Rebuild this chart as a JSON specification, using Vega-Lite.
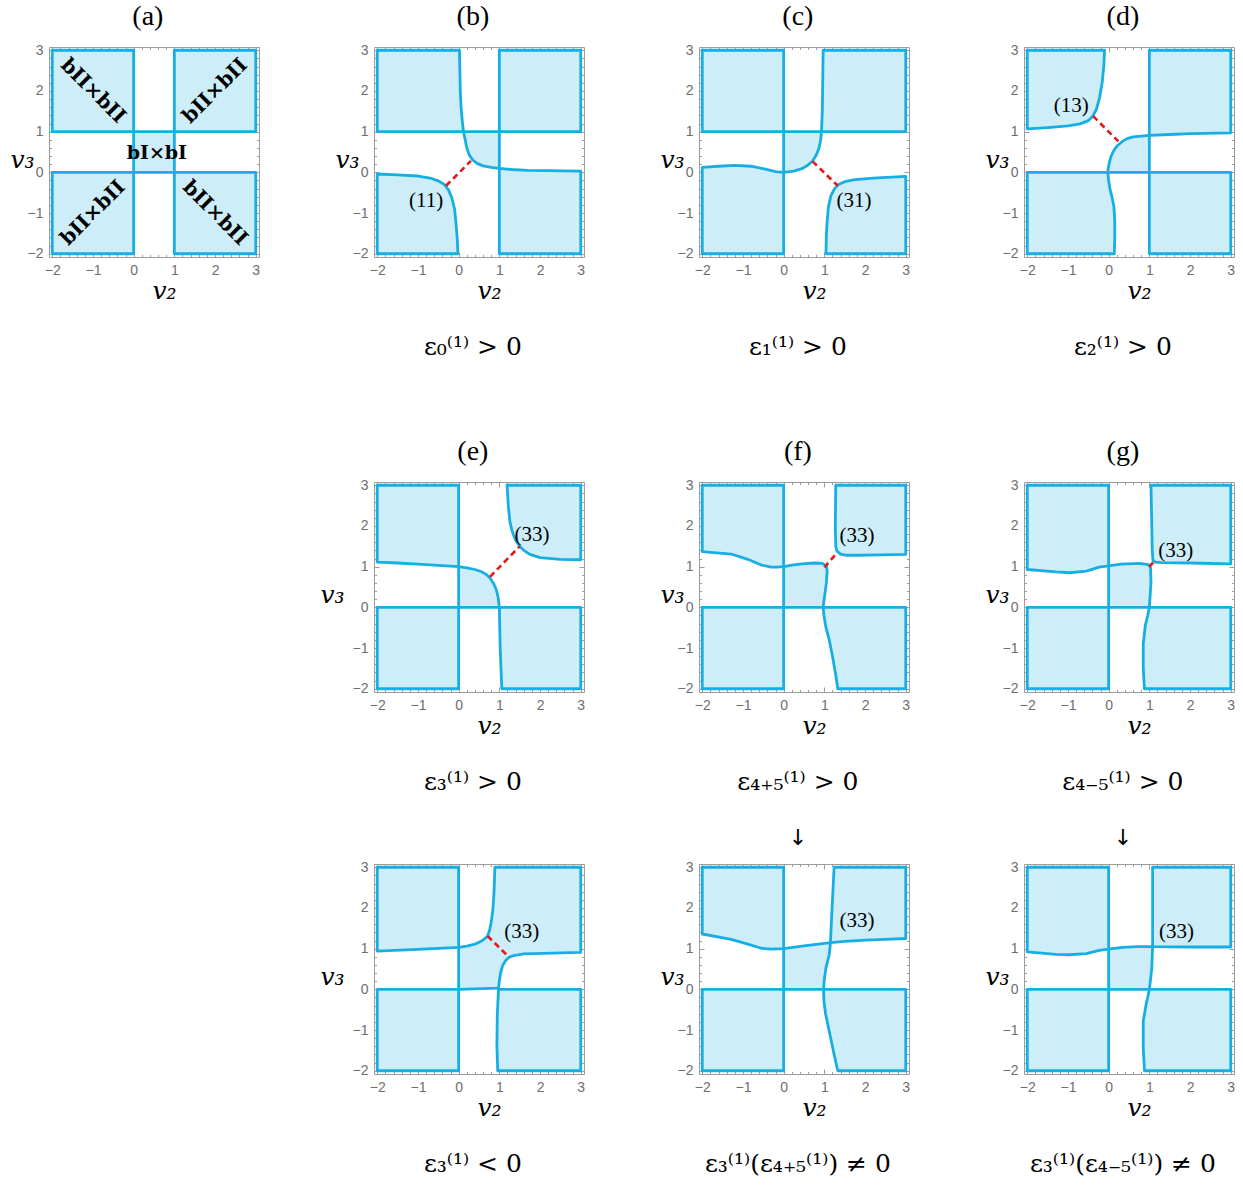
{
"$schema": "https://vega.github.io/schema/vega-lite/v6.json",
"background": "white",
"padding": {"left": 9, "top": 2, "right": 5, "bottom": 5},
"datasets": {
"poly": [
{"p":"a","g":"a1","x":-2,"y":1},{"p":"a","g":"a1","x":-2,"y":3},{"p":"a","g":"a1","x":0,"y":3},{"p":"a","g":"a1","x":0,"y":1},
{"p":"a","g":"a2","x":1,"y":1},{"p":"a","g":"a2","x":1,"y":3},{"p":"a","g":"a2","x":3,"y":3},{"p":"a","g":"a2","x":3,"y":1},
{"p":"a","g":"a3","x":-2,"y":-2},{"p":"a","g":"a3","x":-2,"y":0},{"p":"a","g":"a3","x":0,"y":0},{"p":"a","g":"a3","x":0,"y":-2},
{"p":"a","g":"a4","x":1,"y":-2},{"p":"a","g":"a4","x":1,"y":0},{"p":"a","g":"a4","x":3,"y":0},{"p":"a","g":"a4","x":3,"y":-2},
{"p":"a","g":"a5","x":0,"y":0},{"p":"a","g":"a5","x":0,"y":1},{"p":"a","g":"a5","x":1,"y":1},{"p":"a","g":"a5","x":1,"y":0},

{"p":"b","g":"b1","x":-2,"y":1},{"p":"b","g":"b1","x":-2,"y":3},{"p":"b","g":"b1","x":0.02,"y":3},{"p":"b","g":"b1","x":0.03,"y":2.5},{"p":"b","g":"b1","x":0.04,"y":2},{"p":"b","g":"b1","x":0.06,"y":1.6},{"p":"b","g":"b1","x":0.09,"y":1.25},{"p":"b","g":"b1","x":0.12,"y":1},
{"p":"b","g":"b2","x":1,"y":1},{"p":"b","g":"b2","x":1,"y":3},{"p":"b","g":"b2","x":3,"y":3},{"p":"b","g":"b2","x":3,"y":1},
{"p":"b","g":"b3","x":0.12,"y":1},{"p":"b","g":"b3","x":1,"y":1},{"p":"b","g":"b3","x":1,"y":0.1},{"p":"b","g":"b3","x":0.8,"y":0.12},{"p":"b","g":"b3","x":0.6,"y":0.16},{"p":"b","g":"b3","x":0.45,"y":0.22},{"p":"b","g":"b3","x":0.34,"y":0.31},{"p":"b","g":"b3","x":0.26,"y":0.43},{"p":"b","g":"b3","x":0.2,"y":0.6},{"p":"b","g":"b3","x":0.16,"y":0.8},
{"p":"b","g":"b4","x":1,"y":-2},{"p":"b","g":"b4","x":1,"y":0.1},{"p":"b","g":"b4","x":1.3,"y":0.07},{"p":"b","g":"b4","x":1.7,"y":0.05},{"p":"b","g":"b4","x":2.2,"y":0.04},{"p":"b","g":"b4","x":3,"y":0.03},{"p":"b","g":"b4","x":3,"y":-2},
{"p":"b","g":"b5","x":-2,"y":-2},{"p":"b","g":"b5","x":-2,"y":-0.04},{"p":"b","g":"b5","x":-1.5,"y":-0.06},{"p":"b","g":"b5","x":-1,"y":-0.09},{"p":"b","g":"b5","x":-0.7,"y":-0.14},{"p":"b","g":"b5","x":-0.5,"y":-0.21},{"p":"b","g":"b5","x":-0.35,"y":-0.3},{"p":"b","g":"b5","x":-0.25,"y":-0.43},{"p":"b","g":"b5","x":-0.17,"y":-0.62},{"p":"b","g":"b5","x":-0.1,"y":-0.9},{"p":"b","g":"b5","x":-0.06,"y":-1.3},{"p":"b","g":"b5","x":-0.03,"y":-1.7},{"p":"b","g":"b5","x":-0.02,"y":-2},

{"p":"c","g":"c1","x":-2,"y":1},{"p":"c","g":"c1","x":-2,"y":3},{"p":"c","g":"c1","x":0,"y":3},{"p":"c","g":"c1","x":0,"y":1},
{"p":"c","g":"c2","x":0.93,"y":1},{"p":"c","g":"c2","x":0.95,"y":1.5},{"p":"c","g":"c2","x":0.96,"y":2.2},{"p":"c","g":"c2","x":0.97,"y":3},{"p":"c","g":"c2","x":3,"y":3},{"p":"c","g":"c2","x":3,"y":1},
{"p":"c","g":"c3","x":0,"y":0},{"p":"c","g":"c3","x":0,"y":1},{"p":"c","g":"c3","x":0.93,"y":1},{"p":"c","g":"c3","x":0.91,"y":0.8},{"p":"c","g":"c3","x":0.87,"y":0.6},{"p":"c","g":"c3","x":0.8,"y":0.42},{"p":"c","g":"c3","x":0.71,"y":0.28},{"p":"c","g":"c3","x":0.6,"y":0.18},{"p":"c","g":"c3","x":0.45,"y":0.09},{"p":"c","g":"c3","x":0.25,"y":0.03},
{"p":"c","g":"c4","x":-2,"y":-2},{"p":"c","g":"c4","x":-2,"y":0.12},{"p":"c","g":"c4","x":-1.6,"y":0.15},{"p":"c","g":"c4","x":-1.2,"y":0.17},{"p":"c","g":"c4","x":-0.8,"y":0.15},{"p":"c","g":"c4","x":-0.45,"y":0.08},{"p":"c","g":"c4","x":-0.2,"y":0.02},{"p":"c","g":"c4","x":0,"y":0},{"p":"c","g":"c4","x":0,"y":-2},
{"p":"c","g":"c5","x":1.04,"y":-2},{"p":"c","g":"c5","x":1.05,"y":-1.5},{"p":"c","g":"c5","x":1.07,"y":-1.2},{"p":"c","g":"c5","x":1.1,"y":-0.85},{"p":"c","g":"c5","x":1.16,"y":-0.58},{"p":"c","g":"c5","x":1.25,"y":-0.4},{"p":"c","g":"c5","x":1.35,"y":-0.3},{"p":"c","g":"c5","x":1.5,"y":-0.23},{"p":"c","g":"c5","x":1.75,"y":-0.18},{"p":"c","g":"c5","x":2.2,"y":-0.14},{"p":"c","g":"c5","x":3,"y":-0.1},{"p":"c","g":"c5","x":3,"y":-2},

{"p":"d","g":"d1","x":-2,"y":1.07},{"p":"d","g":"d1","x":-2,"y":3},{"p":"d","g":"d1","x":-0.1,"y":3},{"p":"d","g":"d1","x":-0.12,"y":2.6},{"p":"d","g":"d1","x":-0.16,"y":2.2},{"p":"d","g":"d1","x":-0.22,"y":1.85},{"p":"d","g":"d1","x":-0.3,"y":1.55},{"p":"d","g":"d1","x":-0.39,"y":1.38},{"p":"d","g":"d1","x":-0.5,"y":1.27},{"p":"d","g":"d1","x":-0.7,"y":1.19},{"p":"d","g":"d1","x":-1,"y":1.14},{"p":"d","g":"d1","x":-1.5,"y":1.1},
{"p":"d","g":"d2","x":1,"y":0.91},{"p":"d","g":"d2","x":1,"y":3},{"p":"d","g":"d2","x":3,"y":3},{"p":"d","g":"d2","x":3,"y":0.97},{"p":"d","g":"d2","x":2,"y":0.95},{"p":"d","g":"d2","x":1.5,"y":0.93},
{"p":"d","g":"d3","x":-0.02,"y":0},{"p":"d","g":"d3","x":1,"y":0},{"p":"d","g":"d3","x":1,"y":0.91},{"p":"d","g":"d3","x":0.6,"y":0.87},{"p":"d","g":"d3","x":0.45,"y":0.83},{"p":"d","g":"d3","x":0.34,"y":0.76},{"p":"d","g":"d3","x":0.22,"y":0.66},{"p":"d","g":"d3","x":0.14,"y":0.56},{"p":"d","g":"d3","x":0.06,"y":0.4},{"p":"d","g":"d3","x":0.02,"y":0.25},{"p":"d","g":"d3","x":-0.01,"y":0.1},
{"p":"d","g":"d4","x":-2,"y":-2},{"p":"d","g":"d4","x":-2,"y":0},{"p":"d","g":"d4","x":-0.02,"y":0},{"p":"d","g":"d4","x":0,"y":-0.2},{"p":"d","g":"d4","x":0.03,"y":-0.4},{"p":"d","g":"d4","x":0.08,"y":-0.6},{"p":"d","g":"d4","x":0.13,"y":-0.85},{"p":"d","g":"d4","x":0.15,"y":-1.2},{"p":"d","g":"d4","x":0.15,"y":-1.6},{"p":"d","g":"d4","x":0.14,"y":-2},
{"p":"d","g":"d5","x":1,"y":-2},{"p":"d","g":"d5","x":1,"y":0},{"p":"d","g":"d5","x":3,"y":0},{"p":"d","g":"d5","x":3,"y":-2},

{"p":"e","g":"e1","x":-2,"y":1.11},{"p":"e","g":"e1","x":-2,"y":3},{"p":"e","g":"e1","x":0,"y":3},{"p":"e","g":"e1","x":0,"y":1},{"p":"e","g":"e1","x":-0.5,"y":1.03},{"p":"e","g":"e1","x":-1,"y":1.06},{"p":"e","g":"e1","x":-1.5,"y":1.09},
{"p":"e","g":"e2","x":0,"y":0},{"p":"e","g":"e2","x":0,"y":1},{"p":"e","g":"e2","x":0.2,"y":0.97},{"p":"e","g":"e2","x":0.4,"y":0.93},{"p":"e","g":"e2","x":0.55,"y":0.88},{"p":"e","g":"e2","x":0.68,"y":0.81},{"p":"e","g":"e2","x":0.77,"y":0.72},{"p":"e","g":"e2","x":0.85,"y":0.6},{"p":"e","g":"e2","x":0.92,"y":0.45},{"p":"e","g":"e2","x":0.97,"y":0.25},{"p":"e","g":"e2","x":1,"y":0},
{"p":"e","g":"e3","x":1,"y":0},{"p":"e","g":"e3","x":3,"y":0},{"p":"e","g":"e3","x":3,"y":-2},{"p":"e","g":"e3","x":1.06,"y":-2},{"p":"e","g":"e3","x":1.04,"y":-1.5},{"p":"e","g":"e3","x":1.02,"y":-1},{"p":"e","g":"e3","x":1.01,"y":-0.5},
{"p":"e","g":"e4","x":-2,"y":-2},{"p":"e","g":"e4","x":-2,"y":0},{"p":"e","g":"e4","x":0,"y":0},{"p":"e","g":"e4","x":0,"y":-2},
{"p":"e","g":"e5","x":1.19,"y":3},{"p":"e","g":"e5","x":3,"y":3},{"p":"e","g":"e5","x":3,"y":1.17},{"p":"e","g":"e5","x":2.5,"y":1.18},{"p":"e","g":"e5","x":2,"y":1.22},{"p":"e","g":"e5","x":1.75,"y":1.3},{"p":"e","g":"e5","x":1.6,"y":1.4},{"p":"e","g":"e5","x":1.5,"y":1.5},{"p":"e","g":"e5","x":1.4,"y":1.65},{"p":"e","g":"e5","x":1.32,"y":1.85},{"p":"e","g":"e5","x":1.26,"y":2.1},{"p":"e","g":"e5","x":1.22,"y":2.5},

{"p":"f","g":"f1","x":-2,"y":1.37},{"p":"f","g":"f1","x":-2,"y":3},{"p":"f","g":"f1","x":0,"y":3},{"p":"f","g":"f1","x":0,"y":1},{"p":"f","g":"f1","x":-0.15,"y":0.99},{"p":"f","g":"f1","x":-0.31,"y":0.99},{"p":"f","g":"f1","x":-0.55,"y":1.04},{"p":"f","g":"f1","x":-0.88,"y":1.18},{"p":"f","g":"f1","x":-1.29,"y":1.31},
{"p":"f","g":"f2","x":0,"y":0},{"p":"f","g":"f2","x":0,"y":1},{"p":"f","g":"f2","x":0.2,"y":1.04},{"p":"f","g":"f2","x":0.45,"y":1.07},{"p":"f","g":"f2","x":0.75,"y":1.09},{"p":"f","g":"f2","x":0.95,"y":1.08},{"p":"f","g":"f2","x":1.05,"y":1.02},{"p":"f","g":"f2","x":1.07,"y":0.9},{"p":"f","g":"f2","x":1.05,"y":0.6},{"p":"f","g":"f2","x":1.01,"y":0.3},{"p":"f","g":"f2","x":0.98,"y":0.1},{"p":"f","g":"f2","x":0.97,"y":0},
{"p":"f","g":"f3","x":0.97,"y":0},{"p":"f","g":"f3","x":3,"y":0},{"p":"f","g":"f3","x":3,"y":-2},{"p":"f","g":"f3","x":1.33,"y":-2},{"p":"f","g":"f3","x":1.28,"y":-1.66},{"p":"f","g":"f3","x":1.2,"y":-1.2},{"p":"f","g":"f3","x":1.12,"y":-0.8},{"p":"f","g":"f3","x":1.04,"y":-0.5},{"p":"f","g":"f3","x":0.99,"y":-0.2},
{"p":"f","g":"f4","x":-2,"y":-2},{"p":"f","g":"f4","x":-2,"y":0},{"p":"f","g":"f4","x":0,"y":0},{"p":"f","g":"f4","x":0,"y":-2},
{"p":"f","g":"f5","x":1.28,"y":3},{"p":"f","g":"f5","x":3,"y":3},{"p":"f","g":"f5","x":3,"y":1.3},{"p":"f","g":"f5","x":2.4,"y":1.29},{"p":"f","g":"f5","x":1.8,"y":1.28},{"p":"f","g":"f5","x":1.55,"y":1.28},{"p":"f","g":"f5","x":1.4,"y":1.31},{"p":"f","g":"f5","x":1.31,"y":1.38},{"p":"f","g":"f5","x":1.28,"y":1.5},{"p":"f","g":"f5","x":1.27,"y":2},

{"p":"g","g":"g1","x":-2,"y":0.93},{"p":"g","g":"g1","x":-2,"y":3},{"p":"g","g":"g1","x":0,"y":3},{"p":"g","g":"g1","x":0,"y":1.02},{"p":"g","g":"g1","x":-0.23,"y":0.99},{"p":"g","g":"g1","x":-0.55,"y":0.89},{"p":"g","g":"g1","x":-0.96,"y":0.85},{"p":"g","g":"g1","x":-1.29,"y":0.87},
{"p":"g","g":"g2","x":0,"y":0},{"p":"g","g":"g2","x":0,"y":1.02},{"p":"g","g":"g2","x":0.3,"y":1.06},{"p":"g","g":"g2","x":0.75,"y":1.08},{"p":"g","g":"g2","x":0.98,"y":1.05},{"p":"g","g":"g2","x":1.03,"y":0.97},{"p":"g","g":"g2","x":1.04,"y":0.6},{"p":"g","g":"g2","x":1.02,"y":0.3},{"p":"g","g":"g2","x":1,"y":0},
{"p":"g","g":"g3","x":1,"y":0},{"p":"g","g":"g3","x":3,"y":0},{"p":"g","g":"g3","x":3,"y":-2},{"p":"g","g":"g3","x":0.88,"y":-2},{"p":"g","g":"g3","x":0.85,"y":-1.5},{"p":"g","g":"g3","x":0.85,"y":-0.9},{"p":"g","g":"g3","x":0.9,"y":-0.45},{"p":"g","g":"g3","x":0.96,"y":-0.2},
{"p":"g","g":"g4","x":-2,"y":-2},{"p":"g","g":"g4","x":-2,"y":0},{"p":"g","g":"g4","x":0,"y":0},{"p":"g","g":"g4","x":0,"y":-2},
{"p":"g","g":"g5","x":1.04,"y":3},{"p":"g","g":"g5","x":3,"y":3},{"p":"g","g":"g5","x":3,"y":1.07},{"p":"g","g":"g5","x":2,"y":1.09},{"p":"g","g":"g5","x":1.3,"y":1.1},{"p":"g","g":"g5","x":1.15,"y":1.11},{"p":"g","g":"g5","x":1.09,"y":1.15},{"p":"g","g":"g5","x":1.07,"y":1.4},{"p":"g","g":"g5","x":1.06,"y":2},

{"p":"h","g":"h1","x":-2,"y":0.94},{"p":"h","g":"h1","x":-2,"y":3},{"p":"h","g":"h1","x":0,"y":3},{"p":"h","g":"h1","x":0,"y":1.03},{"p":"h","g":"h1","x":-1,"y":0.98},
{"p":"h","g":"h2","x":0,"y":0},{"p":"h","g":"h2","x":0,"y":1.03},{"p":"h","g":"h2","x":0.2,"y":1.06},{"p":"h","g":"h2","x":0.4,"y":1.11},{"p":"h","g":"h2","x":0.55,"y":1.18},{"p":"h","g":"h2","x":0.65,"y":1.25},{"p":"h","g":"h2","x":0.71,"y":1.31},{"p":"h","g":"h2","x":0.76,"y":1.45},{"p":"h","g":"h2","x":0.8,"y":1.65},{"p":"h","g":"h2","x":0.84,"y":1.95},{"p":"h","g":"h2","x":0.87,"y":2.4},{"p":"h","g":"h2","x":0.89,"y":3},{"p":"h","g":"h2","x":3,"y":3},{"p":"h","g":"h2","x":3,"y":0.91},{"p":"h","g":"h2","x":2.3,"y":0.89},{"p":"h","g":"h2","x":1.6,"y":0.87},{"p":"h","g":"h2","x":1.35,"y":0.83},{"p":"h","g":"h2","x":1.24,"y":0.79},{"p":"h","g":"h2","x":1.15,"y":0.7},{"p":"h","g":"h2","x":1.08,"y":0.58},{"p":"h","g":"h2","x":1.03,"y":0.4},{"p":"h","g":"h2","x":1,"y":0.21},{"p":"h","g":"h2","x":0.98,"y":0.03},
{"p":"h","g":"h3","x":0.98,"y":0},{"p":"h","g":"h3","x":3,"y":0},{"p":"h","g":"h3","x":3,"y":-2},{"p":"h","g":"h3","x":0.96,"y":-2},{"p":"h","g":"h3","x":0.94,"y":-1.4},{"p":"h","g":"h3","x":0.95,"y":-0.6},{"p":"h","g":"h3","x":0.97,"y":-0.2},
{"p":"h","g":"h4","x":-2,"y":-2},{"p":"h","g":"h4","x":-2,"y":0},{"p":"h","g":"h4","x":0,"y":0},{"p":"h","g":"h4","x":0,"y":-2},

{"p":"i","g":"i1","x":-2,"y":1.36},{"p":"i","g":"i1","x":-2,"y":3},{"p":"i","g":"i1","x":0,"y":3},{"p":"i","g":"i1","x":0,"y":1},{"p":"i","g":"i1","x":-0.31,"y":0.99},{"p":"i","g":"i1","x":-0.55,"y":1.01},{"p":"i","g":"i1","x":-0.88,"y":1.11},{"p":"i","g":"i1","x":-1.29,"y":1.23},
{"p":"i","g":"i2","x":0,"y":0},{"p":"i","g":"i2","x":0,"y":1},{"p":"i","g":"i2","x":0.5,"y":1.07},{"p":"i","g":"i2","x":1.15,"y":1.15},{"p":"i","g":"i2","x":1.12,"y":0.85},{"p":"i","g":"i2","x":1.04,"y":0.53},{"p":"i","g":"i2","x":1,"y":0.25},{"p":"i","g":"i2","x":0.98,"y":0},
{"p":"i","g":"i3","x":1.15,"y":1.15},{"p":"i","g":"i3","x":1.18,"y":1.8},{"p":"i","g":"i3","x":1.21,"y":2.4},{"p":"i","g":"i3","x":1.24,"y":3},{"p":"i","g":"i3","x":3,"y":3},{"p":"i","g":"i3","x":3,"y":1.25},{"p":"i","g":"i3","x":2.5,"y":1.23},{"p":"i","g":"i3","x":2,"y":1.21},{"p":"i","g":"i3","x":1.5,"y":1.18},
{"p":"i","g":"i4","x":0.98,"y":0},{"p":"i","g":"i4","x":3,"y":0},{"p":"i","g":"i4","x":3,"y":-2},{"p":"i","g":"i4","x":1.33,"y":-2},{"p":"i","g":"i4","x":1.24,"y":-1.6},{"p":"i","g":"i4","x":1.12,"y":-1.03},{"p":"i","g":"i4","x":1.03,"y":-0.6},{"p":"i","g":"i4","x":0.99,"y":-0.3},
{"p":"i","g":"i5","x":-2,"y":-2},{"p":"i","g":"i5","x":-2,"y":0},{"p":"i","g":"i5","x":0,"y":0},{"p":"i","g":"i5","x":0,"y":-2},

{"p":"j","g":"j1","x":-2,"y":0.92},{"p":"j","g":"j1","x":-2,"y":3},{"p":"j","g":"j1","x":0,"y":3},{"p":"j","g":"j1","x":0,"y":0.99},{"p":"j","g":"j1","x":-0.23,"y":0.96},{"p":"j","g":"j1","x":-0.55,"y":0.88},{"p":"j","g":"j1","x":-0.96,"y":0.85},{"p":"j","g":"j1","x":-1.29,"y":0.86},
{"p":"j","g":"j2","x":0,"y":0},{"p":"j","g":"j2","x":0,"y":0.99},{"p":"j","g":"j2","x":0.34,"y":1.03},{"p":"j","g":"j2","x":0.7,"y":1.05},{"p":"j","g":"j2","x":1.08,"y":1.05},{"p":"j","g":"j2","x":1.07,"y":0.8},{"p":"j","g":"j2","x":1.06,"y":0.53},{"p":"j","g":"j2","x":1.03,"y":0.25},{"p":"j","g":"j2","x":1,"y":0},
{"p":"j","g":"j3","x":1.08,"y":1.05},{"p":"j","g":"j3","x":1.08,"y":3},{"p":"j","g":"j3","x":3,"y":3},{"p":"j","g":"j3","x":3,"y":1.04},{"p":"j","g":"j3","x":2,"y":1.04},
{"p":"j","g":"j4","x":1,"y":0},{"p":"j","g":"j4","x":3,"y":0},{"p":"j","g":"j4","x":3,"y":-2},{"p":"j","g":"j4","x":0.88,"y":-2},{"p":"j","g":"j4","x":0.85,"y":-1.44},{"p":"j","g":"j4","x":0.85,"y":-0.78},{"p":"j","g":"j4","x":0.92,"y":-0.37},{"p":"j","g":"j4","x":0.97,"y":-0.15},
{"p":"j","g":"j5","x":-2,"y":-2},{"p":"j","g":"j5","x":-2,"y":0},{"p":"j","g":"j5","x":0,"y":0},{"p":"j","g":"j5","x":0,"y":-2}
],
"dash": [
{"p":"b","x":-0.31,"y":-0.33},{"p":"b","x":0.3,"y":0.28},
{"p":"c","x":0.71,"y":0.27},{"p":"c","x":1.33,"y":-0.33},
{"p":"d","x":-0.38,"y":1.38},{"p":"d","x":0.24,"y":0.76},
{"p":"e","x":0.77,"y":0.75},{"p":"e","x":1.5,"y":1.5},
{"p":"f","x":1.0,"y":0.98},{"p":"f","x":1.31,"y":1.34},
{"p":"g","x":1.0,"y":0.99},{"p":"g","x":1.11,"y":1.13},
{"p":"h","x":0.71,"y":1.31},{"p":"h","x":1.24,"y":0.79}
],
"lab": [
{"p":"b","t":"(11)","x":-0.8,"y":-0.71},
{"p":"c","t":"(31)","x":1.73,"y":-0.71},
{"p":"d","t":"(13)","x":-0.92,"y":1.62},
{"p":"e","t":"(33)","x":1.8,"y":1.77},
{"p":"f","t":"(33)","x":1.8,"y":1.75},
{"p":"g","t":"(33)","x":1.65,"y":1.38},
{"p":"h","t":"(33)","x":1.55,"y":1.4},
{"p":"i","t":"(33)","x":1.8,"y":1.68},
{"p":"j","t":"(33)","x":1.67,"y":1.4}
],
"alab": [
{"t":"bII×bII","x":-1,"y":2,"r":"down"},
{"t":"bII×bII","x":2,"y":-1,"r":"down"},
{"t":"bII×bII","x":2,"y":2,"r":"up"},
{"t":"bII×bII","x":-1,"y":-1,"r":"up"},
{"t":"bI×bI","x":0.57,"y":0.47,"r":"flat"}
],
"meta": [
{"p":"a","ttl":"(a)","cap":"","arr":""},
{"p":"b","ttl":"(b)","cap":"ε₀⁽¹⁾ > 0","arr":""},
{"p":"c","ttl":"(c)","cap":"ε₁⁽¹⁾ > 0","arr":""},
{"p":"d","ttl":"(d)","cap":"ε₂⁽¹⁾ > 0","arr":""},
{"p":"e","ttl":"(e)","cap":"ε₃⁽¹⁾ > 0","arr":""},
{"p":"f","ttl":"(f)","cap":"ε₄₊₅⁽¹⁾ > 0","arr":""},
{"p":"g","ttl":"(g)","cap":"ε₄₋₅⁽¹⁾ > 0","arr":""},
{"p":"h","ttl":"","cap":"ε₃⁽¹⁾ < 0","arr":""},
{"p":"i","ttl":"","cap":"ε₃⁽¹⁾(ε₄₊₅⁽¹⁾) ≠ 0","arr":"↓"},
{"p":"j","ttl":"","cap":"ε₃⁽¹⁾(ε₄₋₅⁽¹⁾) ≠ 0","arr":"↓"}
]
},
"bounds": "flush",
"spacing": 435,
"vconcat": [
{"hconcat": [
{"width":210,"height":210,"data":{"name":"poly"},"transform":[{"filter":"datum.p==='a'"}],"resolve":{"axis":{"x":"independent","y":"independent"}},
"layer":[
{"mark":{"type":"line","interpolate":"linear-closed","fill":"#cdeef8","strokeOpacity":0,"strokeWidth":0},"encoding":{"x":{"field":"x","type":"quantitative","scale":{"domain":[-2.08,3.08],"nice":false,"zero":false},"axis":{"orient":"top","values":[-2,-1.8,-1.6,-1.4,-1.2,-1,-0.8,-0.6,-0.4,-0.2,0,0.2,0.4,0.6,0.8,1,1.2,1.4,1.6,1.8,2,2.2,2.4,2.6,2.8,3],"labels":false,"title":null,"tickSize":{"condition":{"test":"datum.value % 1 === 0","value":-5},"value":-2.5}}},"y":{"field":"y","type":"quantitative","scale":{"domain":[-2.08,3.08],"nice":false,"zero":false},"axis":{"orient":"right","values":[-2,-1.8,-1.6,-1.4,-1.2,-1,-0.8,-0.6,-0.4,-0.2,0,0.2,0.4,0.6,0.8,1,1.2,1.4,1.6,1.8,2,2.2,2.4,2.6,2.8,3],"labels":false,"title":null,"tickSize":{"condition":{"test":"datum.value % 1 === 0","value":-5},"value":-2.5}}},"detail":{"field":"g"},"order":{"value":null}}},
{"mark":{"type":"line","interpolate":"linear-closed","stroke":"#17aee3","strokeWidth":2.8,"strokeJoin":"round"},"encoding":{"x":{"field":"x","type":"quantitative","scale":{"domain":[-2.08,3.08],"nice":false,"zero":false},"axis":{"orient":"bottom","values":[-2,-1.8,-1.6,-1.4,-1.2,-1,-0.8,-0.6,-0.4,-0.2,0,0.2,0.4,0.6,0.8,1,1.2,1.4,1.6,1.8,2,2.2,2.4,2.6,2.8,3],"labelExpr":"datum.value % 1 === 0 ? (datum.value < 0 ? '−' + toString(-datum.value) : toString(datum.value)) : ''","tickSize":{"condition":{"test":"datum.value % 1 === 0","value":-5},"value":-2.5},"title":"v₂","titleX":115,"titleY":41}},"y":{"field":"y","type":"quantitative","scale":{"domain":[-2.08,3.08],"nice":false,"zero":false},"axis":{"orient":"left","values":[-2,-1.8,-1.6,-1.4,-1.2,-1,-0.8,-0.6,-0.4,-0.2,0,0.2,0.4,0.6,0.8,1,1.2,1.4,1.6,1.8,2,2.2,2.4,2.6,2.8,3],"labelExpr":"datum.value % 1 === 0 ? (datum.value < 0 ? '−' + toString(-datum.value) : toString(datum.value)) : ''","tickSize":{"condition":{"test":"datum.value % 1 === 0","value":-5},"value":-2.5},"title":"v₃","titleAngle":0,"titleX":-27,"titleY":120}},"detail":{"field":"g"},"order":{"value":null}}},
{"data":{"name":"alab"},"transform":[{"filter":"datum.r==='down'"}],"mark":{"type":"text","font":"DejaVu Serif","fontWeight":"bold","fontSize":20,"angle":45,"color":"#000"},"encoding":{"x":{"field":"x","type":"quantitative","scale":{"domain":[-2.08,3.08],"nice":false,"zero":false},"axis":null},"y":{"field":"y","type":"quantitative","scale":{"domain":[-2.08,3.08],"nice":false,"zero":false},"axis":null},"text":{"field":"t"}}},
{"data":{"name":"alab"},"transform":[{"filter":"datum.r==='up'"}],"mark":{"type":"text","font":"DejaVu Serif","fontWeight":"bold","fontSize":20,"angle":315,"color":"#000"},"encoding":{"x":{"field":"x","type":"quantitative","scale":{"domain":[-2.08,3.08],"nice":false,"zero":false},"axis":null},"y":{"field":"y","type":"quantitative","scale":{"domain":[-2.08,3.08],"nice":false,"zero":false},"axis":null},"text":{"field":"t"}}},
{"data":{"name":"alab"},"transform":[{"filter":"datum.r==='flat'"}],"mark":{"type":"text","font":"DejaVu Serif","fontWeight":"bold","fontSize":19,"color":"#000"},"encoding":{"x":{"field":"x","type":"quantitative","scale":{"domain":[-2.08,3.08],"nice":false,"zero":false},"axis":null},"y":{"field":"y","type":"quantitative","scale":{"domain":[-2.08,3.08],"nice":false,"zero":false},"axis":null},"text":{"field":"t"}}},
{"data":{"name":"meta"},"transform":[{"filter":"datum.p==='a'"}],"mark":{"type":"text","font":"Liberation Serif","fontSize":28,"baseline":"alphabetic","color":"#000"},"encoding":{"x":{"datum":0.35,"type":"quantitative","scale":{"domain":[-2.08,3.08],"nice":false,"zero":false},"axis":null},"y":{"datum":3.62,"type":"quantitative","scale":{"domain":[-2.08,3.08],"nice":false,"zero":false},"axis":null},"text":{"field":"ttl"}}}
]},
{"width":210,"height":210,"data":{"name":"poly"},"transform":[{"filter":"datum.p==='b'"}],"resolve":{"axis":{"x":"independent","y":"independent"}},
"layer":[
{"mark":{"type":"line","interpolate":"linear-closed","fill":"#cdeef8","strokeOpacity":0,"strokeWidth":0},"encoding":{"x":{"field":"x","type":"quantitative","scale":{"domain":[-2.08,3.08],"nice":false,"zero":false},"axis":{"orient":"top","values":[-2,-1.8,-1.6,-1.4,-1.2,-1,-0.8,-0.6,-0.4,-0.2,0,0.2,0.4,0.6,0.8,1,1.2,1.4,1.6,1.8,2,2.2,2.4,2.6,2.8,3],"labels":false,"title":null,"tickSize":{"condition":{"test":"datum.value % 1 === 0","value":-5},"value":-2.5}}},"y":{"field":"y","type":"quantitative","scale":{"domain":[-2.08,3.08],"nice":false,"zero":false},"axis":{"orient":"right","values":[-2,-1.8,-1.6,-1.4,-1.2,-1,-0.8,-0.6,-0.4,-0.2,0,0.2,0.4,0.6,0.8,1,1.2,1.4,1.6,1.8,2,2.2,2.4,2.6,2.8,3],"labels":false,"title":null,"tickSize":{"condition":{"test":"datum.value % 1 === 0","value":-5},"value":-2.5}}},"detail":{"field":"g"},"order":{"value":null}}},
{"mark":{"type":"line","interpolate":"linear-closed","stroke":"#17aee3","strokeWidth":2.8,"strokeJoin":"round"},"encoding":{"x":{"field":"x","type":"quantitative","scale":{"domain":[-2.08,3.08],"nice":false,"zero":false},"axis":{"orient":"bottom","values":[-2,-1.8,-1.6,-1.4,-1.2,-1,-0.8,-0.6,-0.4,-0.2,0,0.2,0.4,0.6,0.8,1,1.2,1.4,1.6,1.8,2,2.2,2.4,2.6,2.8,3],"labelExpr":"datum.value % 1 === 0 ? (datum.value < 0 ? '−' + toString(-datum.value) : toString(datum.value)) : ''","tickSize":{"condition":{"test":"datum.value % 1 === 0","value":-5},"value":-2.5},"title":"v₂","titleX":115,"titleY":41}},"y":{"field":"y","type":"quantitative","scale":{"domain":[-2.08,3.08],"nice":false,"zero":false},"axis":{"orient":"left","values":[-2,-1.8,-1.6,-1.4,-1.2,-1,-0.8,-0.6,-0.4,-0.2,0,0.2,0.4,0.6,0.8,1,1.2,1.4,1.6,1.8,2,2.2,2.4,2.6,2.8,3],"labelExpr":"datum.value % 1 === 0 ? (datum.value < 0 ? '−' + toString(-datum.value) : toString(datum.value)) : ''","tickSize":{"condition":{"test":"datum.value % 1 === 0","value":-5},"value":-2.5},"title":"v₃","titleAngle":0,"titleX":-27,"titleY":120}},"detail":{"field":"g"},"order":{"value":null}}},
{"data":{"name":"dash"},"transform":[{"filter":"datum.p==='b'"}],"mark":{"type":"line","stroke":"#e5191c","strokeWidth":2.6,"strokeDash":[6,4]},"encoding":{"x":{"field":"x","type":"quantitative","scale":{"domain":[-2.08,3.08],"nice":false,"zero":false},"axis":null},"y":{"field":"y","type":"quantitative","scale":{"domain":[-2.08,3.08],"nice":false,"zero":false},"axis":null},"order":{"value":null}}},
{"data":{"name":"lab"},"transform":[{"filter":"datum.p==='b'"}],"mark":{"type":"text","font":"Liberation Serif","fontSize":21,"color":"#000"},"encoding":{"x":{"field":"x","type":"quantitative","scale":{"domain":[-2.08,3.08],"nice":false,"zero":false},"axis":null},"y":{"field":"y","type":"quantitative","scale":{"domain":[-2.08,3.08],"nice":false,"zero":false},"axis":null},"text":{"field":"t"}}},
{"data":{"name":"meta"},"transform":[{"filter":"datum.p==='b'"}],"mark":{"type":"text","font":"Liberation Serif","fontSize":28,"baseline":"alphabetic","color":"#000"},"encoding":{"x":{"datum":0.35,"type":"quantitative","scale":{"domain":[-2.08,3.08],"nice":false,"zero":false},"axis":null},"y":{"datum":3.62,"type":"quantitative","scale":{"domain":[-2.08,3.08],"nice":false,"zero":false},"axis":null},"text":{"field":"ttl"}}},
{"data":{"name":"meta"},"transform":[{"filter":"datum.p==='b'"}],"mark":{"type":"text","font":"DejaVu Serif","fontSize":25,"baseline":"alphabetic","color":"#000"},"encoding":{"x":{"datum":0.35,"type":"quantitative","scale":{"domain":[-2.08,3.08],"nice":false,"zero":false},"axis":null},"y":{"datum":-4.5,"type":"quantitative","scale":{"domain":[-2.08,3.08],"nice":false,"zero":false},"axis":null},"text":{"field":"cap"}}}
]},
{"width":210,"height":210,"data":{"name":"poly"},"transform":[{"filter":"datum.p==='c'"}],"resolve":{"axis":{"x":"independent","y":"independent"}},
"layer":[
{"mark":{"type":"line","interpolate":"linear-closed","fill":"#cdeef8","strokeOpacity":0,"strokeWidth":0},"encoding":{"x":{"field":"x","type":"quantitative","scale":{"domain":[-2.08,3.08],"nice":false,"zero":false},"axis":{"orient":"top","values":[-2,-1.8,-1.6,-1.4,-1.2,-1,-0.8,-0.6,-0.4,-0.2,0,0.2,0.4,0.6,0.8,1,1.2,1.4,1.6,1.8,2,2.2,2.4,2.6,2.8,3],"labels":false,"title":null,"tickSize":{"condition":{"test":"datum.value % 1 === 0","value":-5},"value":-2.5}}},"y":{"field":"y","type":"quantitative","scale":{"domain":[-2.08,3.08],"nice":false,"zero":false},"axis":{"orient":"right","values":[-2,-1.8,-1.6,-1.4,-1.2,-1,-0.8,-0.6,-0.4,-0.2,0,0.2,0.4,0.6,0.8,1,1.2,1.4,1.6,1.8,2,2.2,2.4,2.6,2.8,3],"labels":false,"title":null,"tickSize":{"condition":{"test":"datum.value % 1 === 0","value":-5},"value":-2.5}}},"detail":{"field":"g"},"order":{"value":null}}},
{"mark":{"type":"line","interpolate":"linear-closed","stroke":"#17aee3","strokeWidth":2.8,"strokeJoin":"round"},"encoding":{"x":{"field":"x","type":"quantitative","scale":{"domain":[-2.08,3.08],"nice":false,"zero":false},"axis":{"orient":"bottom","values":[-2,-1.8,-1.6,-1.4,-1.2,-1,-0.8,-0.6,-0.4,-0.2,0,0.2,0.4,0.6,0.8,1,1.2,1.4,1.6,1.8,2,2.2,2.4,2.6,2.8,3],"labelExpr":"datum.value % 1 === 0 ? (datum.value < 0 ? '−' + toString(-datum.value) : toString(datum.value)) : ''","tickSize":{"condition":{"test":"datum.value % 1 === 0","value":-5},"value":-2.5},"title":"v₂","titleX":115,"titleY":41}},"y":{"field":"y","type":"quantitative","scale":{"domain":[-2.08,3.08],"nice":false,"zero":false},"axis":{"orient":"left","values":[-2,-1.8,-1.6,-1.4,-1.2,-1,-0.8,-0.6,-0.4,-0.2,0,0.2,0.4,0.6,0.8,1,1.2,1.4,1.6,1.8,2,2.2,2.4,2.6,2.8,3],"labelExpr":"datum.value % 1 === 0 ? (datum.value < 0 ? '−' + toString(-datum.value) : toString(datum.value)) : ''","tickSize":{"condition":{"test":"datum.value % 1 === 0","value":-5},"value":-2.5},"title":"v₃","titleAngle":0,"titleX":-27,"titleY":120}},"detail":{"field":"g"},"order":{"value":null}}},
{"data":{"name":"dash"},"transform":[{"filter":"datum.p==='c'"}],"mark":{"type":"line","stroke":"#e5191c","strokeWidth":2.6,"strokeDash":[6,4]},"encoding":{"x":{"field":"x","type":"quantitative","scale":{"domain":[-2.08,3.08],"nice":false,"zero":false},"axis":null},"y":{"field":"y","type":"quantitative","scale":{"domain":[-2.08,3.08],"nice":false,"zero":false},"axis":null},"order":{"value":null}}},
{"data":{"name":"lab"},"transform":[{"filter":"datum.p==='c'"}],"mark":{"type":"text","font":"Liberation Serif","fontSize":21,"color":"#000"},"encoding":{"x":{"field":"x","type":"quantitative","scale":{"domain":[-2.08,3.08],"nice":false,"zero":false},"axis":null},"y":{"field":"y","type":"quantitative","scale":{"domain":[-2.08,3.08],"nice":false,"zero":false},"axis":null},"text":{"field":"t"}}},
{"data":{"name":"meta"},"transform":[{"filter":"datum.p==='c'"}],"mark":{"type":"text","font":"Liberation Serif","fontSize":28,"baseline":"alphabetic","color":"#000"},"encoding":{"x":{"datum":0.35,"type":"quantitative","scale":{"domain":[-2.08,3.08],"nice":false,"zero":false},"axis":null},"y":{"datum":3.62,"type":"quantitative","scale":{"domain":[-2.08,3.08],"nice":false,"zero":false},"axis":null},"text":{"field":"ttl"}}},
{"data":{"name":"meta"},"transform":[{"filter":"datum.p==='c'"}],"mark":{"type":"text","font":"DejaVu Serif","fontSize":25,"baseline":"alphabetic","color":"#000"},"encoding":{"x":{"datum":0.35,"type":"quantitative","scale":{"domain":[-2.08,3.08],"nice":false,"zero":false},"axis":null},"y":{"datum":-4.5,"type":"quantitative","scale":{"domain":[-2.08,3.08],"nice":false,"zero":false},"axis":null},"text":{"field":"cap"}}}
]},
{"width":210,"height":210,"data":{"name":"poly"},"transform":[{"filter":"datum.p==='d'"}],"resolve":{"axis":{"x":"independent","y":"independent"}},
"layer":[
{"mark":{"type":"line","interpolate":"linear-closed","fill":"#cdeef8","strokeOpacity":0,"strokeWidth":0},"encoding":{"x":{"field":"x","type":"quantitative","scale":{"domain":[-2.08,3.08],"nice":false,"zero":false},"axis":{"orient":"top","values":[-2,-1.8,-1.6,-1.4,-1.2,-1,-0.8,-0.6,-0.4,-0.2,0,0.2,0.4,0.6,0.8,1,1.2,1.4,1.6,1.8,2,2.2,2.4,2.6,2.8,3],"labels":false,"title":null,"tickSize":{"condition":{"test":"datum.value % 1 === 0","value":-5},"value":-2.5}}},"y":{"field":"y","type":"quantitative","scale":{"domain":[-2.08,3.08],"nice":false,"zero":false},"axis":{"orient":"right","values":[-2,-1.8,-1.6,-1.4,-1.2,-1,-0.8,-0.6,-0.4,-0.2,0,0.2,0.4,0.6,0.8,1,1.2,1.4,1.6,1.8,2,2.2,2.4,2.6,2.8,3],"labels":false,"title":null,"tickSize":{"condition":{"test":"datum.value % 1 === 0","value":-5},"value":-2.5}}},"detail":{"field":"g"},"order":{"value":null}}},
{"mark":{"type":"line","interpolate":"linear-closed","stroke":"#17aee3","strokeWidth":2.8,"strokeJoin":"round"},"encoding":{"x":{"field":"x","type":"quantitative","scale":{"domain":[-2.08,3.08],"nice":false,"zero":false},"axis":{"orient":"bottom","values":[-2,-1.8,-1.6,-1.4,-1.2,-1,-0.8,-0.6,-0.4,-0.2,0,0.2,0.4,0.6,0.8,1,1.2,1.4,1.6,1.8,2,2.2,2.4,2.6,2.8,3],"labelExpr":"datum.value % 1 === 0 ? (datum.value < 0 ? '−' + toString(-datum.value) : toString(datum.value)) : ''","tickSize":{"condition":{"test":"datum.value % 1 === 0","value":-5},"value":-2.5},"title":"v₂","titleX":115,"titleY":41}},"y":{"field":"y","type":"quantitative","scale":{"domain":[-2.08,3.08],"nice":false,"zero":false},"axis":{"orient":"left","values":[-2,-1.8,-1.6,-1.4,-1.2,-1,-0.8,-0.6,-0.4,-0.2,0,0.2,0.4,0.6,0.8,1,1.2,1.4,1.6,1.8,2,2.2,2.4,2.6,2.8,3],"labelExpr":"datum.value % 1 === 0 ? (datum.value < 0 ? '−' + toString(-datum.value) : toString(datum.value)) : ''","tickSize":{"condition":{"test":"datum.value % 1 === 0","value":-5},"value":-2.5},"title":"v₃","titleAngle":0,"titleX":-27,"titleY":120}},"detail":{"field":"g"},"order":{"value":null}}},
{"data":{"name":"dash"},"transform":[{"filter":"datum.p==='d'"}],"mark":{"type":"line","stroke":"#e5191c","strokeWidth":2.6,"strokeDash":[6,4]},"encoding":{"x":{"field":"x","type":"quantitative","scale":{"domain":[-2.08,3.08],"nice":false,"zero":false},"axis":null},"y":{"field":"y","type":"quantitative","scale":{"domain":[-2.08,3.08],"nice":false,"zero":false},"axis":null},"order":{"value":null}}},
{"data":{"name":"lab"},"transform":[{"filter":"datum.p==='d'"}],"mark":{"type":"text","font":"Liberation Serif","fontSize":21,"color":"#000"},"encoding":{"x":{"field":"x","type":"quantitative","scale":{"domain":[-2.08,3.08],"nice":false,"zero":false},"axis":null},"y":{"field":"y","type":"quantitative","scale":{"domain":[-2.08,3.08],"nice":false,"zero":false},"axis":null},"text":{"field":"t"}}},
{"data":{"name":"meta"},"transform":[{"filter":"datum.p==='d'"}],"mark":{"type":"text","font":"Liberation Serif","fontSize":28,"baseline":"alphabetic","color":"#000"},"encoding":{"x":{"datum":0.35,"type":"quantitative","scale":{"domain":[-2.08,3.08],"nice":false,"zero":false},"axis":null},"y":{"datum":3.62,"type":"quantitative","scale":{"domain":[-2.08,3.08],"nice":false,"zero":false},"axis":null},"text":{"field":"ttl"}}},
{"data":{"name":"meta"},"transform":[{"filter":"datum.p==='d'"}],"mark":{"type":"text","font":"DejaVu Serif","fontSize":25,"baseline":"alphabetic","color":"#000"},"encoding":{"x":{"datum":0.35,"type":"quantitative","scale":{"domain":[-2.08,3.08],"nice":false,"zero":false},"axis":null},"y":{"datum":-4.5,"type":"quantitative","scale":{"domain":[-2.08,3.08],"nice":false,"zero":false},"axis":null},"text":{"field":"cap"}}}
]}
],"spacing":115,"bounds":"flush"},
{"vconcat":[
{"hconcat":[
{"width":210,"height":210,"view":{"stroke":null},"data":{"values":[{"t":""}]},"mark":{"type":"text"},"encoding":{"text":{"field":"t"}}},
{"width":210,"height":210,"data":{"name":"poly"},"transform":[{"filter":"datum.p==='e'"}],"resolve":{"axis":{"x":"independent","y":"independent"}},
"layer":[
{"mark":{"type":"line","interpolate":"linear-closed","fill":"#cdeef8","strokeOpacity":0,"strokeWidth":0},"encoding":{"x":{"field":"x","type":"quantitative","scale":{"domain":[-2.08,3.08],"nice":false,"zero":false},"axis":{"orient":"top","values":[-2,-1.8,-1.6,-1.4,-1.2,-1,-0.8,-0.6,-0.4,-0.2,0,0.2,0.4,0.6,0.8,1,1.2,1.4,1.6,1.8,2,2.2,2.4,2.6,2.8,3],"labels":false,"title":null,"tickSize":{"condition":{"test":"datum.value % 1 === 0","value":-5},"value":-2.5}}},"y":{"field":"y","type":"quantitative","scale":{"domain":[-2.08,3.08],"nice":false,"zero":false},"axis":{"orient":"right","values":[-2,-1.8,-1.6,-1.4,-1.2,-1,-0.8,-0.6,-0.4,-0.2,0,0.2,0.4,0.6,0.8,1,1.2,1.4,1.6,1.8,2,2.2,2.4,2.6,2.8,3],"labels":false,"title":null,"tickSize":{"condition":{"test":"datum.value % 1 === 0","value":-5},"value":-2.5}}},"detail":{"field":"g"},"order":{"value":null}}},
{"mark":{"type":"line","interpolate":"linear-closed","stroke":"#17aee3","strokeWidth":2.8,"strokeJoin":"round"},"encoding":{"x":{"field":"x","type":"quantitative","scale":{"domain":[-2.08,3.08],"nice":false,"zero":false},"axis":{"orient":"bottom","values":[-2,-1.8,-1.6,-1.4,-1.2,-1,-0.8,-0.6,-0.4,-0.2,0,0.2,0.4,0.6,0.8,1,1.2,1.4,1.6,1.8,2,2.2,2.4,2.6,2.8,3],"labelExpr":"datum.value % 1 === 0 ? (datum.value < 0 ? '−' + toString(-datum.value) : toString(datum.value)) : ''","tickSize":{"condition":{"test":"datum.value % 1 === 0","value":-5},"value":-2.5},"title":"v₂","titleX":115,"titleY":41}},"y":{"field":"y","type":"quantitative","scale":{"domain":[-2.08,3.08],"nice":false,"zero":false},"axis":{"orient":"left","values":[-2,-1.8,-1.6,-1.4,-1.2,-1,-0.8,-0.6,-0.4,-0.2,0,0.2,0.4,0.6,0.8,1,1.2,1.4,1.6,1.8,2,2.2,2.4,2.6,2.8,3],"labelExpr":"datum.value % 1 === 0 ? (datum.value < 0 ? '−' + toString(-datum.value) : toString(datum.value)) : ''","tickSize":{"condition":{"test":"datum.value % 1 === 0","value":-5},"value":-2.5},"title":"v₃","titleAngle":0,"titleX":-42,"titleY":120}},"detail":{"field":"g"},"order":{"value":null}}},
{"data":{"name":"dash"},"transform":[{"filter":"datum.p==='e'"}],"mark":{"type":"line","stroke":"#e5191c","strokeWidth":2.6,"strokeDash":[6,4]},"encoding":{"x":{"field":"x","type":"quantitative","scale":{"domain":[-2.08,3.08],"nice":false,"zero":false},"axis":null},"y":{"field":"y","type":"quantitative","scale":{"domain":[-2.08,3.08],"nice":false,"zero":false},"axis":null},"order":{"value":null}}},
{"data":{"name":"lab"},"transform":[{"filter":"datum.p==='e'"}],"mark":{"type":"text","font":"Liberation Serif","fontSize":21,"color":"#000"},"encoding":{"x":{"field":"x","type":"quantitative","scale":{"domain":[-2.08,3.08],"nice":false,"zero":false},"axis":null},"y":{"field":"y","type":"quantitative","scale":{"domain":[-2.08,3.08],"nice":false,"zero":false},"axis":null},"text":{"field":"t"}}},
{"data":{"name":"meta"},"transform":[{"filter":"datum.p==='e'"}],"mark":{"type":"text","font":"Liberation Serif","fontSize":28,"baseline":"alphabetic","color":"#000"},"encoding":{"x":{"datum":0.35,"type":"quantitative","scale":{"domain":[-2.08,3.08],"nice":false,"zero":false},"axis":null},"y":{"datum":3.62,"type":"quantitative","scale":{"domain":[-2.08,3.08],"nice":false,"zero":false},"axis":null},"text":{"field":"ttl"}}},
{"data":{"name":"meta"},"transform":[{"filter":"datum.p==='e'"}],"mark":{"type":"text","font":"DejaVu Serif","fontSize":25,"baseline":"alphabetic","color":"#000"},"encoding":{"x":{"datum":0.35,"type":"quantitative","scale":{"domain":[-2.08,3.08],"nice":false,"zero":false},"axis":null},"y":{"datum":-4.5,"type":"quantitative","scale":{"domain":[-2.08,3.08],"nice":false,"zero":false},"axis":null},"text":{"field":"cap"}}}
]},
{"width":210,"height":210,"data":{"name":"poly"},"transform":[{"filter":"datum.p==='f'"}],"resolve":{"axis":{"x":"independent","y":"independent"}},
"layer":[
{"mark":{"type":"line","interpolate":"linear-closed","fill":"#cdeef8","strokeOpacity":0,"strokeWidth":0},"encoding":{"x":{"field":"x","type":"quantitative","scale":{"domain":[-2.08,3.08],"nice":false,"zero":false},"axis":{"orient":"top","values":[-2,-1.8,-1.6,-1.4,-1.2,-1,-0.8,-0.6,-0.4,-0.2,0,0.2,0.4,0.6,0.8,1,1.2,1.4,1.6,1.8,2,2.2,2.4,2.6,2.8,3],"labels":false,"title":null,"tickSize":{"condition":{"test":"datum.value % 1 === 0","value":-5},"value":-2.5}}},"y":{"field":"y","type":"quantitative","scale":{"domain":[-2.08,3.08],"nice":false,"zero":false},"axis":{"orient":"right","values":[-2,-1.8,-1.6,-1.4,-1.2,-1,-0.8,-0.6,-0.4,-0.2,0,0.2,0.4,0.6,0.8,1,1.2,1.4,1.6,1.8,2,2.2,2.4,2.6,2.8,3],"labels":false,"title":null,"tickSize":{"condition":{"test":"datum.value % 1 === 0","value":-5},"value":-2.5}}},"detail":{"field":"g"},"order":{"value":null}}},
{"mark":{"type":"line","interpolate":"linear-closed","stroke":"#17aee3","strokeWidth":2.8,"strokeJoin":"round"},"encoding":{"x":{"field":"x","type":"quantitative","scale":{"domain":[-2.08,3.08],"nice":false,"zero":false},"axis":{"orient":"bottom","values":[-2,-1.8,-1.6,-1.4,-1.2,-1,-0.8,-0.6,-0.4,-0.2,0,0.2,0.4,0.6,0.8,1,1.2,1.4,1.6,1.8,2,2.2,2.4,2.6,2.8,3],"labelExpr":"datum.value % 1 === 0 ? (datum.value < 0 ? '−' + toString(-datum.value) : toString(datum.value)) : ''","tickSize":{"condition":{"test":"datum.value % 1 === 0","value":-5},"value":-2.5},"title":"v₂","titleX":115,"titleY":41}},"y":{"field":"y","type":"quantitative","scale":{"domain":[-2.08,3.08],"nice":false,"zero":false},"axis":{"orient":"left","values":[-2,-1.8,-1.6,-1.4,-1.2,-1,-0.8,-0.6,-0.4,-0.2,0,0.2,0.4,0.6,0.8,1,1.2,1.4,1.6,1.8,2,2.2,2.4,2.6,2.8,3],"labelExpr":"datum.value % 1 === 0 ? (datum.value < 0 ? '−' + toString(-datum.value) : toString(datum.value)) : ''","tickSize":{"condition":{"test":"datum.value % 1 === 0","value":-5},"value":-2.5},"title":"v₃","titleAngle":0,"titleX":-27,"titleY":120}},"detail":{"field":"g"},"order":{"value":null}}},
{"data":{"name":"dash"},"transform":[{"filter":"datum.p==='f'"}],"mark":{"type":"line","stroke":"#e5191c","strokeWidth":2.6,"strokeDash":[6,4]},"encoding":{"x":{"field":"x","type":"quantitative","scale":{"domain":[-2.08,3.08],"nice":false,"zero":false},"axis":null},"y":{"field":"y","type":"quantitative","scale":{"domain":[-2.08,3.08],"nice":false,"zero":false},"axis":null},"order":{"value":null}}},
{"data":{"name":"lab"},"transform":[{"filter":"datum.p==='f'"}],"mark":{"type":"text","font":"Liberation Serif","fontSize":21,"color":"#000"},"encoding":{"x":{"field":"x","type":"quantitative","scale":{"domain":[-2.08,3.08],"nice":false,"zero":false},"axis":null},"y":{"field":"y","type":"quantitative","scale":{"domain":[-2.08,3.08],"nice":false,"zero":false},"axis":null},"text":{"field":"t"}}},
{"data":{"name":"meta"},"transform":[{"filter":"datum.p==='f'"}],"mark":{"type":"text","font":"Liberation Serif","fontSize":28,"baseline":"alphabetic","color":"#000"},"encoding":{"x":{"datum":0.35,"type":"quantitative","scale":{"domain":[-2.08,3.08],"nice":false,"zero":false},"axis":null},"y":{"datum":3.62,"type":"quantitative","scale":{"domain":[-2.08,3.08],"nice":false,"zero":false},"axis":null},"text":{"field":"ttl"}}},
{"data":{"name":"meta"},"transform":[{"filter":"datum.p==='f'"}],"mark":{"type":"text","font":"DejaVu Serif","fontSize":25,"baseline":"alphabetic","color":"#000"},"encoding":{"x":{"datum":0.35,"type":"quantitative","scale":{"domain":[-2.08,3.08],"nice":false,"zero":false},"axis":null},"y":{"datum":-4.5,"type":"quantitative","scale":{"domain":[-2.08,3.08],"nice":false,"zero":false},"axis":null},"text":{"field":"cap"}}}
]},
{"width":210,"height":210,"data":{"name":"poly"},"transform":[{"filter":"datum.p==='g'"}],"resolve":{"axis":{"x":"independent","y":"independent"}},
"layer":[
{"mark":{"type":"line","interpolate":"linear-closed","fill":"#cdeef8","strokeOpacity":0,"strokeWidth":0},"encoding":{"x":{"field":"x","type":"quantitative","scale":{"domain":[-2.08,3.08],"nice":false,"zero":false},"axis":{"orient":"top","values":[-2,-1.8,-1.6,-1.4,-1.2,-1,-0.8,-0.6,-0.4,-0.2,0,0.2,0.4,0.6,0.8,1,1.2,1.4,1.6,1.8,2,2.2,2.4,2.6,2.8,3],"labels":false,"title":null,"tickSize":{"condition":{"test":"datum.value % 1 === 0","value":-5},"value":-2.5}}},"y":{"field":"y","type":"quantitative","scale":{"domain":[-2.08,3.08],"nice":false,"zero":false},"axis":{"orient":"right","values":[-2,-1.8,-1.6,-1.4,-1.2,-1,-0.8,-0.6,-0.4,-0.2,0,0.2,0.4,0.6,0.8,1,1.2,1.4,1.6,1.8,2,2.2,2.4,2.6,2.8,3],"labels":false,"title":null,"tickSize":{"condition":{"test":"datum.value % 1 === 0","value":-5},"value":-2.5}}},"detail":{"field":"g"},"order":{"value":null}}},
{"mark":{"type":"line","interpolate":"linear-closed","stroke":"#17aee3","strokeWidth":2.8,"strokeJoin":"round"},"encoding":{"x":{"field":"x","type":"quantitative","scale":{"domain":[-2.08,3.08],"nice":false,"zero":false},"axis":{"orient":"bottom","values":[-2,-1.8,-1.6,-1.4,-1.2,-1,-0.8,-0.6,-0.4,-0.2,0,0.2,0.4,0.6,0.8,1,1.2,1.4,1.6,1.8,2,2.2,2.4,2.6,2.8,3],"labelExpr":"datum.value % 1 === 0 ? (datum.value < 0 ? '−' + toString(-datum.value) : toString(datum.value)) : ''","tickSize":{"condition":{"test":"datum.value % 1 === 0","value":-5},"value":-2.5},"title":"v₂","titleX":115,"titleY":41}},"y":{"field":"y","type":"quantitative","scale":{"domain":[-2.08,3.08],"nice":false,"zero":false},"axis":{"orient":"left","values":[-2,-1.8,-1.6,-1.4,-1.2,-1,-0.8,-0.6,-0.4,-0.2,0,0.2,0.4,0.6,0.8,1,1.2,1.4,1.6,1.8,2,2.2,2.4,2.6,2.8,3],"labelExpr":"datum.value % 1 === 0 ? (datum.value < 0 ? '−' + toString(-datum.value) : toString(datum.value)) : ''","tickSize":{"condition":{"test":"datum.value % 1 === 0","value":-5},"value":-2.5},"title":"v₃","titleAngle":0,"titleX":-27,"titleY":120}},"detail":{"field":"g"},"order":{"value":null}}},
{"data":{"name":"dash"},"transform":[{"filter":"datum.p==='g'"}],"mark":{"type":"line","stroke":"#e5191c","strokeWidth":2.6,"strokeDash":[6,4]},"encoding":{"x":{"field":"x","type":"quantitative","scale":{"domain":[-2.08,3.08],"nice":false,"zero":false},"axis":null},"y":{"field":"y","type":"quantitative","scale":{"domain":[-2.08,3.08],"nice":false,"zero":false},"axis":null},"order":{"value":null}}},
{"data":{"name":"lab"},"transform":[{"filter":"datum.p==='g'"}],"mark":{"type":"text","font":"Liberation Serif","fontSize":21,"color":"#000"},"encoding":{"x":{"field":"x","type":"quantitative","scale":{"domain":[-2.08,3.08],"nice":false,"zero":false},"axis":null},"y":{"field":"y","type":"quantitative","scale":{"domain":[-2.08,3.08],"nice":false,"zero":false},"axis":null},"text":{"field":"t"}}},
{"data":{"name":"meta"},"transform":[{"filter":"datum.p==='g'"}],"mark":{"type":"text","font":"Liberation Serif","fontSize":28,"baseline":"alphabetic","color":"#000"},"encoding":{"x":{"datum":0.35,"type":"quantitative","scale":{"domain":[-2.08,3.08],"nice":false,"zero":false},"axis":null},"y":{"datum":3.62,"type":"quantitative","scale":{"domain":[-2.08,3.08],"nice":false,"zero":false},"axis":null},"text":{"field":"ttl"}}},
{"data":{"name":"meta"},"transform":[{"filter":"datum.p==='g'"}],"mark":{"type":"text","font":"DejaVu Serif","fontSize":25,"baseline":"alphabetic","color":"#000"},"encoding":{"x":{"datum":0.35,"type":"quantitative","scale":{"domain":[-2.08,3.08],"nice":false,"zero":false},"axis":null},"y":{"datum":-4.5,"type":"quantitative","scale":{"domain":[-2.08,3.08],"nice":false,"zero":false},"axis":null},"text":{"field":"cap"}}}
]}
],"spacing":115,"bounds":"flush"},
{"hconcat":[
{"width":210,"height":210,"view":{"stroke":null},"data":{"values":[{"t":""}]},"mark":{"type":"text"},"encoding":{"text":{"field":"t"}}},
{"width":210,"height":210,"data":{"name":"poly"},"transform":[{"filter":"datum.p==='h'"}],"resolve":{"axis":{"x":"independent","y":"independent"}},
"layer":[
{"mark":{"type":"line","interpolate":"linear-closed","fill":"#cdeef8","strokeOpacity":0,"strokeWidth":0},"encoding":{"x":{"field":"x","type":"quantitative","scale":{"domain":[-2.08,3.08],"nice":false,"zero":false},"axis":{"orient":"top","values":[-2,-1.8,-1.6,-1.4,-1.2,-1,-0.8,-0.6,-0.4,-0.2,0,0.2,0.4,0.6,0.8,1,1.2,1.4,1.6,1.8,2,2.2,2.4,2.6,2.8,3],"labels":false,"title":null,"tickSize":{"condition":{"test":"datum.value % 1 === 0","value":-5},"value":-2.5}}},"y":{"field":"y","type":"quantitative","scale":{"domain":[-2.08,3.08],"nice":false,"zero":false},"axis":{"orient":"right","values":[-2,-1.8,-1.6,-1.4,-1.2,-1,-0.8,-0.6,-0.4,-0.2,0,0.2,0.4,0.6,0.8,1,1.2,1.4,1.6,1.8,2,2.2,2.4,2.6,2.8,3],"labels":false,"title":null,"tickSize":{"condition":{"test":"datum.value % 1 === 0","value":-5},"value":-2.5}}},"detail":{"field":"g"},"order":{"value":null}}},
{"mark":{"type":"line","interpolate":"linear-closed","stroke":"#17aee3","strokeWidth":2.8,"strokeJoin":"round"},"encoding":{"x":{"field":"x","type":"quantitative","scale":{"domain":[-2.08,3.08],"nice":false,"zero":false},"axis":{"orient":"bottom","values":[-2,-1.8,-1.6,-1.4,-1.2,-1,-0.8,-0.6,-0.4,-0.2,0,0.2,0.4,0.6,0.8,1,1.2,1.4,1.6,1.8,2,2.2,2.4,2.6,2.8,3],"labelExpr":"datum.value % 1 === 0 ? (datum.value < 0 ? '−' + toString(-datum.value) : toString(datum.value)) : ''","tickSize":{"condition":{"test":"datum.value % 1 === 0","value":-5},"value":-2.5},"title":"v₂","titleX":115,"titleY":41}},"y":{"field":"y","type":"quantitative","scale":{"domain":[-2.08,3.08],"nice":false,"zero":false},"axis":{"orient":"left","values":[-2,-1.8,-1.6,-1.4,-1.2,-1,-0.8,-0.6,-0.4,-0.2,0,0.2,0.4,0.6,0.8,1,1.2,1.4,1.6,1.8,2,2.2,2.4,2.6,2.8,3],"labelExpr":"datum.value % 1 === 0 ? (datum.value < 0 ? '−' + toString(-datum.value) : toString(datum.value)) : ''","tickSize":{"condition":{"test":"datum.value % 1 === 0","value":-5},"value":-2.5},"title":"v₃","titleAngle":0,"titleX":-42,"titleY":120}},"detail":{"field":"g"},"order":{"value":null}}},
{"data":{"name":"dash"},"transform":[{"filter":"datum.p==='h'"}],"mark":{"type":"line","stroke":"#e5191c","strokeWidth":2.6,"strokeDash":[6,4]},"encoding":{"x":{"field":"x","type":"quantitative","scale":{"domain":[-2.08,3.08],"nice":false,"zero":false},"axis":null},"y":{"field":"y","type":"quantitative","scale":{"domain":[-2.08,3.08],"nice":false,"zero":false},"axis":null},"order":{"value":null}}},
{"data":{"name":"lab"},"transform":[{"filter":"datum.p==='h'"}],"mark":{"type":"text","font":"Liberation Serif","fontSize":21,"color":"#000"},"encoding":{"x":{"field":"x","type":"quantitative","scale":{"domain":[-2.08,3.08],"nice":false,"zero":false},"axis":null},"y":{"field":"y","type":"quantitative","scale":{"domain":[-2.08,3.08],"nice":false,"zero":false},"axis":null},"text":{"field":"t"}}},
{"data":{"name":"meta"},"transform":[{"filter":"datum.p==='h'"}],"mark":{"type":"text","font":"DejaVu Serif","fontSize":25,"baseline":"alphabetic","color":"#000"},"encoding":{"x":{"datum":0.35,"type":"quantitative","scale":{"domain":[-2.08,3.08],"nice":false,"zero":false},"axis":null},"y":{"datum":-4.5,"type":"quantitative","scale":{"domain":[-2.08,3.08],"nice":false,"zero":false},"axis":null},"text":{"field":"cap"}}}
]},
{"width":210,"height":210,"data":{"name":"poly"},"transform":[{"filter":"datum.p==='i'"}],"resolve":{"axis":{"x":"independent","y":"independent"}},
"layer":[
{"mark":{"type":"line","interpolate":"linear-closed","fill":"#cdeef8","strokeOpacity":0,"strokeWidth":0},"encoding":{"x":{"field":"x","type":"quantitative","scale":{"domain":[-2.08,3.08],"nice":false,"zero":false},"axis":{"orient":"top","values":[-2,-1.8,-1.6,-1.4,-1.2,-1,-0.8,-0.6,-0.4,-0.2,0,0.2,0.4,0.6,0.8,1,1.2,1.4,1.6,1.8,2,2.2,2.4,2.6,2.8,3],"labels":false,"title":null,"tickSize":{"condition":{"test":"datum.value % 1 === 0","value":-5},"value":-2.5}}},"y":{"field":"y","type":"quantitative","scale":{"domain":[-2.08,3.08],"nice":false,"zero":false},"axis":{"orient":"right","values":[-2,-1.8,-1.6,-1.4,-1.2,-1,-0.8,-0.6,-0.4,-0.2,0,0.2,0.4,0.6,0.8,1,1.2,1.4,1.6,1.8,2,2.2,2.4,2.6,2.8,3],"labels":false,"title":null,"tickSize":{"condition":{"test":"datum.value % 1 === 0","value":-5},"value":-2.5}}},"detail":{"field":"g"},"order":{"value":null}}},
{"mark":{"type":"line","interpolate":"linear-closed","stroke":"#17aee3","strokeWidth":2.8,"strokeJoin":"round"},"encoding":{"x":{"field":"x","type":"quantitative","scale":{"domain":[-2.08,3.08],"nice":false,"zero":false},"axis":{"orient":"bottom","values":[-2,-1.8,-1.6,-1.4,-1.2,-1,-0.8,-0.6,-0.4,-0.2,0,0.2,0.4,0.6,0.8,1,1.2,1.4,1.6,1.8,2,2.2,2.4,2.6,2.8,3],"labelExpr":"datum.value % 1 === 0 ? (datum.value < 0 ? '−' + toString(-datum.value) : toString(datum.value)) : ''","tickSize":{"condition":{"test":"datum.value % 1 === 0","value":-5},"value":-2.5},"title":"v₂","titleX":115,"titleY":41}},"y":{"field":"y","type":"quantitative","scale":{"domain":[-2.08,3.08],"nice":false,"zero":false},"axis":{"orient":"left","values":[-2,-1.8,-1.6,-1.4,-1.2,-1,-0.8,-0.6,-0.4,-0.2,0,0.2,0.4,0.6,0.8,1,1.2,1.4,1.6,1.8,2,2.2,2.4,2.6,2.8,3],"labelExpr":"datum.value % 1 === 0 ? (datum.value < 0 ? '−' + toString(-datum.value) : toString(datum.value)) : ''","tickSize":{"condition":{"test":"datum.value % 1 === 0","value":-5},"value":-2.5},"title":"v₃","titleAngle":0,"titleX":-27,"titleY":120}},"detail":{"field":"g"},"order":{"value":null}}},
{"data":{"name":"lab"},"transform":[{"filter":"datum.p==='i'"}],"mark":{"type":"text","font":"Liberation Serif","fontSize":21,"color":"#000"},"encoding":{"x":{"field":"x","type":"quantitative","scale":{"domain":[-2.08,3.08],"nice":false,"zero":false},"axis":null},"y":{"field":"y","type":"quantitative","scale":{"domain":[-2.08,3.08],"nice":false,"zero":false},"axis":null},"text":{"field":"t"}}},
{"data":{"name":"meta"},"transform":[{"filter":"datum.p==='i'"}],"mark":{"type":"text","font":"DejaVu Sans","fontSize":22,"baseline":"middle","color":"#000"},"encoding":{"x":{"datum":0.35,"type":"quantitative","scale":{"domain":[-2.08,3.08],"nice":false,"zero":false},"axis":null},"y":{"datum":3.72,"type":"quantitative","scale":{"domain":[-2.08,3.08],"nice":false,"zero":false},"axis":null},"text":{"field":"arr"}}},
{"data":{"name":"meta"},"transform":[{"filter":"datum.p==='i'"}],"mark":{"type":"text","font":"DejaVu Serif","fontSize":25,"baseline":"alphabetic","color":"#000"},"encoding":{"x":{"datum":0.35,"type":"quantitative","scale":{"domain":[-2.08,3.08],"nice":false,"zero":false},"axis":null},"y":{"datum":-4.5,"type":"quantitative","scale":{"domain":[-2.08,3.08],"nice":false,"zero":false},"axis":null},"text":{"field":"cap"}}}
]},
{"width":210,"height":210,"data":{"name":"poly"},"transform":[{"filter":"datum.p==='j'"}],"resolve":{"axis":{"x":"independent","y":"independent"}},
"layer":[
{"mark":{"type":"line","interpolate":"linear-closed","fill":"#cdeef8","strokeOpacity":0,"strokeWidth":0},"encoding":{"x":{"field":"x","type":"quantitative","scale":{"domain":[-2.08,3.08],"nice":false,"zero":false},"axis":{"orient":"top","values":[-2,-1.8,-1.6,-1.4,-1.2,-1,-0.8,-0.6,-0.4,-0.2,0,0.2,0.4,0.6,0.8,1,1.2,1.4,1.6,1.8,2,2.2,2.4,2.6,2.8,3],"labels":false,"title":null,"tickSize":{"condition":{"test":"datum.value % 1 === 0","value":-5},"value":-2.5}}},"y":{"field":"y","type":"quantitative","scale":{"domain":[-2.08,3.08],"nice":false,"zero":false},"axis":{"orient":"right","values":[-2,-1.8,-1.6,-1.4,-1.2,-1,-0.8,-0.6,-0.4,-0.2,0,0.2,0.4,0.6,0.8,1,1.2,1.4,1.6,1.8,2,2.2,2.4,2.6,2.8,3],"labels":false,"title":null,"tickSize":{"condition":{"test":"datum.value % 1 === 0","value":-5},"value":-2.5}}},"detail":{"field":"g"},"order":{"value":null}}},
{"mark":{"type":"line","interpolate":"linear-closed","stroke":"#17aee3","strokeWidth":2.8,"strokeJoin":"round"},"encoding":{"x":{"field":"x","type":"quantitative","scale":{"domain":[-2.08,3.08],"nice":false,"zero":false},"axis":{"orient":"bottom","values":[-2,-1.8,-1.6,-1.4,-1.2,-1,-0.8,-0.6,-0.4,-0.2,0,0.2,0.4,0.6,0.8,1,1.2,1.4,1.6,1.8,2,2.2,2.4,2.6,2.8,3],"labelExpr":"datum.value % 1 === 0 ? (datum.value < 0 ? '−' + toString(-datum.value) : toString(datum.value)) : ''","tickSize":{"condition":{"test":"datum.value % 1 === 0","value":-5},"value":-2.5},"title":"v₂","titleX":115,"titleY":41}},"y":{"field":"y","type":"quantitative","scale":{"domain":[-2.08,3.08],"nice":false,"zero":false},"axis":{"orient":"left","values":[-2,-1.8,-1.6,-1.4,-1.2,-1,-0.8,-0.6,-0.4,-0.2,0,0.2,0.4,0.6,0.8,1,1.2,1.4,1.6,1.8,2,2.2,2.4,2.6,2.8,3],"labelExpr":"datum.value % 1 === 0 ? (datum.value < 0 ? '−' + toString(-datum.value) : toString(datum.value)) : ''","tickSize":{"condition":{"test":"datum.value % 1 === 0","value":-5},"value":-2.5},"title":"v₃","titleAngle":0,"titleX":-27,"titleY":120}},"detail":{"field":"g"},"order":{"value":null}}},
{"data":{"name":"lab"},"transform":[{"filter":"datum.p==='j'"}],"mark":{"type":"text","font":"Liberation Serif","fontSize":21,"color":"#000"},"encoding":{"x":{"field":"x","type":"quantitative","scale":{"domain":[-2.08,3.08],"nice":false,"zero":false},"axis":null},"y":{"field":"y","type":"quantitative","scale":{"domain":[-2.08,3.08],"nice":false,"zero":false},"axis":null},"text":{"field":"t"}}},
{"data":{"name":"meta"},"transform":[{"filter":"datum.p==='j'"}],"mark":{"type":"text","font":"DejaVu Sans","fontSize":22,"baseline":"middle","color":"#000"},"encoding":{"x":{"datum":0.35,"type":"quantitative","scale":{"domain":[-2.08,3.08],"nice":false,"zero":false},"axis":null},"y":{"datum":3.72,"type":"quantitative","scale":{"domain":[-2.08,3.08],"nice":false,"zero":false},"axis":null},"text":{"field":"arr"}}},
{"data":{"name":"meta"},"transform":[{"filter":"datum.p==='j'"}],"mark":{"type":"text","font":"DejaVu Serif","fontSize":25,"baseline":"alphabetic","color":"#000"},"encoding":{"x":{"datum":0.35,"type":"quantitative","scale":{"domain":[-2.08,3.08],"nice":false,"zero":false},"axis":null},"y":{"datum":-4.5,"type":"quantitative","scale":{"domain":[-2.08,3.08],"nice":false,"zero":false},"axis":null},"text":{"field":"cap"}}}
]}
],"spacing":115,"bounds":"flush"}
],"spacing":382,"bounds":"flush"}
],
"config": {
"view": {"stroke": "#9c9c9c", "strokeWidth": 1},
"axis": {"domain": false, "grid": false, "tickColor": "#9c9c9c", "tickWidth": 1, "labelFont": "Liberation Sans", "labelFontSize": 14, "labelColor": "#6e6e6e", "labelPadding": 11, "labelOverlap": false, "labelFlush": false, "titleFont": "DejaVu Serif", "titleFontStyle": "italic", "titleFontWeight": "normal", "titleFontSize": 25, "titleColor": "#000000", "titleAlign": "center", "titleBaseline": "alphabetic"}
}
}
